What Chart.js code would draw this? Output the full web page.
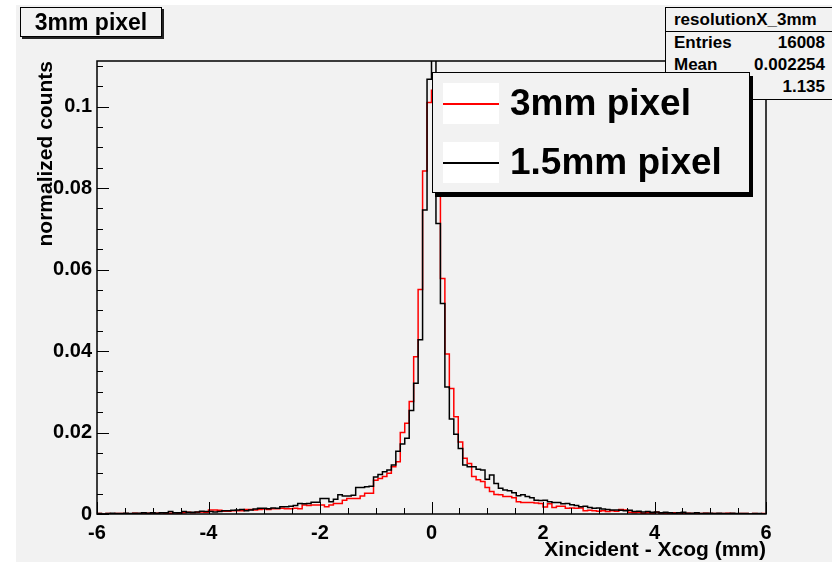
<!DOCTYPE html>
<html>
<head>
<meta charset="utf-8">
<script src="https://cdn.jsdelivr.net/npm/chart.js@4/dist/chart.umd.min.js"></script>
<style>
  html, body { margin: 0; padding: 0; background: #fff; }
  #wrap { position: relative; width: 832px; height: 566px; overflow: hidden;
          font-family: "Liberation Sans", Arial, sans-serif; font-weight: bold; color: #000; }
  #pad { position: absolute; left: 16px; top: 5px; right: 0; bottom: 4px; background: #f2f2f2; }
  #chart { position: absolute; left: 0; top: 0; }
  .box { position: absolute; background: #f2f2f2; border: 1px solid #000; box-sizing: border-box; }
  #title { left: 20px; top: 7px; width: 142px; height: 30px; box-shadow: 2px 2px 0 #222;
           font-size: 23px; line-height: 28px; text-align: center; }
  #stats { left: 665px; top: 7px; width: 170px; height: 93px; font-size: 17px; }
  #stats .hd { height: 23px; line-height: 23px; border-bottom: 1px solid #000; padding-left: 8px; }
  #stats .row { height: 22px; line-height: 22px; padding: 0 9px 0 8px; display: flex; justify-content: space-between; }
  #legend { left: 432px; top: 72px; width: 318px; height: 121px; box-shadow: 3px 4px 0 #000; }
  #legend .item { position: absolute; left: 10px; height: 41px; width: 300px; }
  #legend .swatch { position: absolute; left: 0; top: 0; width: 56px; height: 41px; background: #fff; }
  #legend .swatch .ln { position: absolute; left: 0; width: 56px; top: 20px; height: 2px; }
  #legend .txt { position: absolute; left: 67px; top: -1px; line-height: 41px; font-size: 37px; white-space: nowrap; }
</style>
</head>
<body>
<div id="wrap">
  <div id="pad"></div>
  <canvas id="chart" width="832" height="566"></canvas>
  <div class="box" id="title">3mm pixel</div>
  <div class="box" id="stats">
    <div class="hd">resolutionX_3mm</div>
    <div class="row"><span>Entries</span><span>16008</span></div>
    <div class="row"><span>Mean</span><span>0.002254</span></div>
    <div class="row"><span>RMS</span><span>1.135</span></div>
  </div>
  <div class="box" id="legend"></div>
</div>
<script>
// histogram binning: 150 bins of 0.08 mm from -6 to 6
var xMin = -6;
var xMax = 6;
var nBins = 150;
var xTicks = [-6, -4, -2, 0, 2, 4, 6];
var yTicks = [0, 0.02, 0.04, 0.06, 0.08, 0.1];
var yMax = 0.1112;

// 3mm pixel (red), one value per bin
var res3mm = [
  0.0001, 0.0000, 0.0001, 0.0000, 0.0001, 0.0001, 0.0001, 0.0000, 0.0002, 0.0001,
  0.0002, 0.0002, 0.0001, 0.0002, 0.0003, 0.0002, 0.0002, 0.0003, 0.0002, 0.0003,
  0.0004, 0.0003, 0.0004, 0.0005, 0.0004, 0.0010, 0.0010, 0.0009, 0.0007, 0.0007,
  0.0008, 0.0008, 0.0008, 0.0011, 0.0011, 0.0010, 0.0011, 0.0012, 0.0011, 0.0013,
  0.0013, 0.0014, 0.0013, 0.0013, 0.0014, 0.0013, 0.0022, 0.0021, 0.0022, 0.0022,
  0.0022, 0.0018, 0.0022, 0.0026, 0.0026, 0.0034, 0.0038, 0.0038, 0.0038, 0.0044,
  0.0051, 0.0051, 0.0083, 0.0087, 0.0092, 0.0100, 0.0116, 0.0128, 0.0200, 0.0223,
  0.0276, 0.0386, 0.0551, 0.0842, 0.1010, 0.1040, 0.0880, 0.0578, 0.0393, 0.0308,
  0.0239, 0.0177, 0.0137, 0.0124, 0.0092, 0.0084, 0.0080, 0.0065, 0.0055, 0.0048,
  0.0047, 0.0043, 0.0043, 0.0040, 0.0030, 0.0028, 0.0028, 0.0028, 0.0027, 0.0026,
  0.0017, 0.0025, 0.0016, 0.0019, 0.0019, 0.0014, 0.0015, 0.0014, 0.0015, 0.0008,
  0.0009, 0.0008, 0.0007, 0.0008, 0.0006, 0.0008, 0.0007, 0.0011, 0.0010, 0.0004,
  0.0003, 0.0004, 0.0002, 0.0003, 0.0002, 0.0004, 0.0002, 0.0001, 0.0002, 0.0003,
  0.0001, 0.0002, 0.0002, 0.0001, 0.0002, 0.0001, 0.0002, 0.0001, 0.0001, 0.0001,
  0.0001, 0.0002, 0.0001, 0.0000, 0.0001, 0.0001, 0.0000, 0.0001, 0.0000, 0.0001
];

// 1.5mm pixel (black)
var res15mm = [
  0.0001, 0.0000, 0.0001, 0.0002, 0.0001, 0.0001, 0.0002, 0.0001, 0.0002, 0.0002,
  0.0003, 0.0002, 0.0003, 0.0002, 0.0003, 0.0003, 0.0006, 0.0003, 0.0003, 0.0006,
  0.0004, 0.0004, 0.0005, 0.0007, 0.0006, 0.0006, 0.0005, 0.0006, 0.0008, 0.0008,
  0.0009, 0.0010, 0.0011, 0.0008, 0.0010, 0.0012, 0.0014, 0.0014, 0.0013, 0.0015,
  0.0014, 0.0018, 0.0018, 0.0019, 0.0021, 0.0026, 0.0025, 0.0026, 0.0029, 0.0029,
  0.0038, 0.0038, 0.0030, 0.0036, 0.0047, 0.0044, 0.0044, 0.0046, 0.0065, 0.0065,
  0.0067, 0.0068, 0.0091, 0.0097, 0.0104, 0.0108, 0.0120, 0.0154, 0.0172, 0.0186,
  0.0254, 0.0321, 0.0428, 0.0746, 0.1067, 0.1180, 0.0713, 0.0517, 0.0312, 0.0233,
  0.0196, 0.0161, 0.0120, 0.0116, 0.0116, 0.0110, 0.0108, 0.0085, 0.0096, 0.0075,
  0.0063, 0.0059, 0.0057, 0.0052, 0.0045, 0.0047, 0.0043, 0.0040, 0.0034, 0.0033,
  0.0034, 0.0030, 0.0028, 0.0028, 0.0025, 0.0026, 0.0023, 0.0021, 0.0018, 0.0019,
  0.0016, 0.0014, 0.0015, 0.0012, 0.0011, 0.0010, 0.0010, 0.0009, 0.0008, 0.0009,
  0.0006, 0.0007, 0.0005, 0.0006, 0.0004, 0.0005, 0.0003, 0.0004, 0.0003, 0.0002,
  0.0003, 0.0004, 0.0002, 0.0002, 0.0003, 0.0001, 0.0002, 0.0002, 0.0001, 0.0002,
  0.0001, 0.0001, 0.0002, 0.0001, 0.0001, 0.0001, 0.0000, 0.0001, 0.0001, 0.0000
];

var FONT = '"Liberation Sans", Arial, sans-serif';

// points on the left bin edges, plus the closing right edge
function toSteps(values) {
    var w = (xMax - xMin) / nBins;
    var pts = values.map(function (v, i) { return { x: xMin + i * w, y: v }; });
    pts.push({ x: xMax, y: values[values.length - 1] });
    return pts;
}

// ROOT style frame with ticks pointing inwards
var rootFrame = {
    id: 'rootFrame',
    afterDatasetsDraw: function (chart) {
        var ctx = chart.ctx, a = chart.chartArea;
        var xs = chart.scales.x, ys = chart.scales.y;
        ctx.save();
        ctx.strokeStyle = '#000';
        ctx.lineWidth = 1;
        ctx.beginPath();
        var nx = Math.round((xMax - xMin) / 0.5);
        for (var i = 0; i <= nx; i++) {
            var px = Math.round(xs.getPixelForValue(xMin + i * 0.5)) + 0.5;
            var len = (i % 4 === 0) ? 12 : 6;
            ctx.moveTo(px, a.bottom);
            ctx.lineTo(px, a.bottom - len);
        }
        var ny = Math.floor(yMax / 0.005 + 1e-6);
        for (var j = 0; j <= ny; j++) {
            var py = Math.round(ys.getPixelForValue(j * 0.005)) + 0.5;
            var ylen = (j % 4 === 0) ? 12 : 6;
            ctx.moveTo(a.left, py);
            ctx.lineTo(a.left + ylen, py);
        }
        ctx.stroke();
        ctx.lineWidth = 1.5;
        ctx.strokeRect(a.left, a.top, a.right - a.left, a.bottom - a.top);
        ctx.restore();
    }
};

var ctx = document.getElementById('chart').getContext('2d');
var chart = new Chart(ctx, {
    type: 'line',
    data: {
        datasets: [{
            label: '3mm pixel',
            data: toSteps(res3mm),
            borderColor: '#ff0000',
            borderWidth: 1.5,
            stepped: 'before',
            pointRadius: 0,
            fill: false,
            clip: 0,
            order: 1
        }, {
            label: '1.5mm pixel',
            data: toSteps(res15mm),
            borderColor: '#000000',
            borderWidth: 1.5,
            stepped: 'before',
            pointRadius: 0,
            fill: false,
            clip: 0,
            order: 0
        }]
    },
    options: {
        responsive: false,
        animation: false,
        devicePixelRatio: 1,
        layout: { padding: { left: 0, top: 61, right: 66, bottom: 0 } },
        plugins: { legend: { display: false }, tooltip: { enabled: false } },
        scales: {
            x: {
                type: 'linear',
                min: xMin,
                max: xMax,
                afterFit: function (s) { s.height = 52; },
                afterBuildTicks: function (s) { s.ticks = xTicks.map(function (v) { return { value: v }; }); },
                grid: { display: false, drawTicks: false },
                border: { display: false },
                ticks: {
                    autoSkip: false, maxRotation: 0, padding: 7, color: '#000',
                    font: { family: FONT, size: 20, weight: 'bold' },
                    callback: function (v) { return String(v); }
                },
                title: {
                    display: true, text: 'Xincident - Xcog (mm)', align: 'end', color: '#000',
                    font: { family: FONT, size: 21, weight: 'bold' },
                    padding: { top: 0, bottom: 3 }
                }
            },
            y: {
                min: 0,
                max: yMax,
                afterFit: function (s) { s.width = 97; },
                afterBuildTicks: function (s) { s.ticks = yTicks.map(function (v) { return { value: v }; }); },
                grid: { display: false, drawTicks: false },
                border: { display: false },
                ticks: {
                    padding: 5, color: '#000',
                    font: { family: FONT, size: 20, weight: 'bold' },
                    callback: function (v) { return String(Number(v.toFixed(3))); }
                },
                title: {
                    display: true, text: 'normalized counts', align: 'end', color: '#000',
                    font: { family: FONT, size: 21, weight: 'bold' },
                    padding: { top: 34, bottom: 0 }
                }
            }
        }
    },
    plugins: [rootFrame]
});

// legend box built from the datasets
var legend = document.getElementById('legend');
var rowTops = [10, 69];
chart.data.datasets.forEach(function (ds, i) {
    var item = document.createElement('div');
    item.className = 'item';
    item.style.top = rowTops[i] + 'px';
    var sw = document.createElement('div');
    sw.className = 'swatch';
    var ln = document.createElement('div');
    ln.className = 'ln';
    ln.style.background = ds.borderColor;
    sw.appendChild(ln);
    var txt = document.createElement('div');
    txt.className = 'txt';
    txt.textContent = ds.label;
    item.appendChild(sw);
    item.appendChild(txt);
    legend.appendChild(item);
});
</script>
</body>
</html>
